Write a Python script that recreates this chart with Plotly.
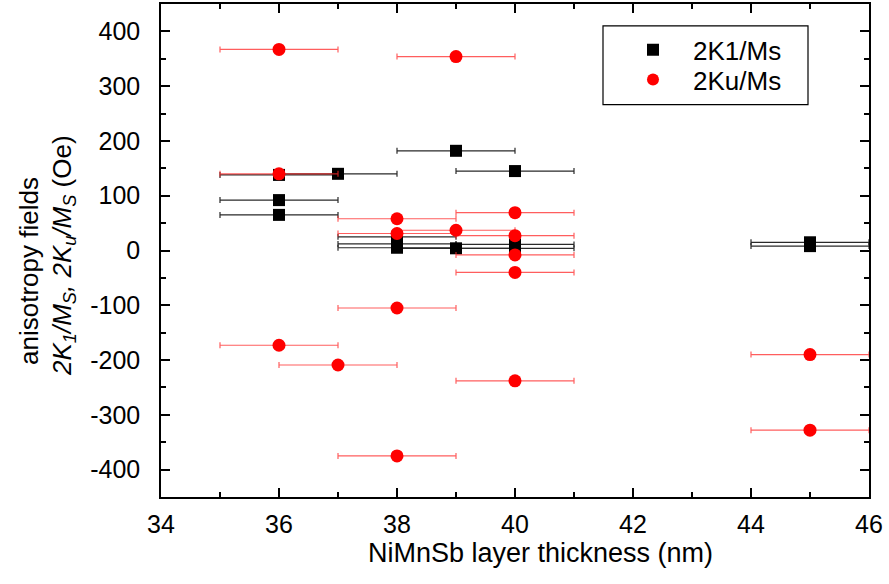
import plotly.graph_objects as go

# 2K1/Ms data
k1_x = [36, 36, 36, 37, 38, 38, 38, 39, 39, 40, 40, 40, 45, 45]
k1_y = [138, 92, 65, 140, 25, 12, 5, 182, 4, 145, 11, 4, 15, 8]
k1_err = [1] * len(k1_x)

# 2Ku/Ms data
ku_x = [36, 36, 36, 37, 38, 38, 38, 38, 39, 39, 40, 40, 40, 40, 40, 45, 45]
ku_y = [367, 140, -173, -209, 58, 31, -105, -375, 354, 37, 69, 27, -8, -40, -238, -190, -328]
ku_err = [1] * len(ku_x)

x_ticks = [34, 36, 38, 40, 42, 44, 46]
y_ticks = [-400, -300, -200, -100, 0, 100, 200, 300, 400]

FONT = "Arial, Liberation Sans, sans-serif"

fig = go.Figure()
fig.add_trace(go.Scatter(
    x=k1_x, y=k1_y, mode="markers", name="2K1/Ms", legend="legend",
    marker=dict(symbol="square", size=12, color="black"),
    error_x=dict(type="data", array=k1_err, visible=True, color="#2a2a2a", thickness=1.2, width=3),
))
fig.add_trace(go.Scatter(
    x=ku_x, y=ku_y, mode="markers", name="2Ku/Ms", legend="legend2",
    marker=dict(symbol="circle", size=13, color="#ff0000"),
    error_x=dict(type="data", array=ku_err, visible=True, color="rgba(255,40,40,0.75)", thickness=1.2, width=3),
))

axis_common = dict(
    showline=True, linecolor="black", linewidth=1.5, mirror="ticks",
    ticks="inside", ticklen=9, tickwidth=1.5, tickcolor="black",
    showgrid=False, zeroline=False,
    tickfont=dict(family=FONT, size=25, color="black"),
)

fig.update_xaxes(
    range=[34, 46], tickvals=x_ticks, ticktext=[str(v) for v in x_ticks],
    minor=dict(ticks="inside", ticklen=5, tickwidth=1.5, tickcolor="black", dtick=1, showgrid=False),
    ticklabelstandoff=4,
    **axis_common,
)
fig.update_yaxes(
    range=[-450, 450], tickvals=y_ticks, ticktext=[str(v) for v in y_ticks],
    minor=dict(ticks="inside", ticklen=5, tickwidth=1.5, tickcolor="black", dtick=50, showgrid=False),
    ticklabelstandoff=14,
    **axis_common,
)

W, H = 889, 584
L, R, T, B = 161, 20, 2, 87
pw, ph = W - L - R, H - T - B


def px_x(px):
    return (px - L) / pw


def px_y(py):
    return (H - B - py) / ph


legend_common = dict(
    xanchor="left", yanchor="middle",
    borderwidth=0, bgcolor="rgba(0,0,0,0)",
    font=dict(family=FONT, size=26, color="black"),
    itemsizing="constant", itemwidth=70,
)

fig.update_layout(
    width=W, height=H,
    margin=dict(l=L, r=R, t=T, b=B),
    plot_bgcolor="white", paper_bgcolor="white",
    showlegend=True,
    legend=dict(x=px_x(613), y=px_y(48), **legend_common),
    legend2=dict(x=px_x(613), y=px_y(78), **legend_common),
    shapes=[dict(
        type="rect", xref="paper", yref="paper",
        x0=px_x(603), x1=px_x(808), y0=px_y(103), y1=px_y(24),
        line=dict(color="black", width=1.2), fillcolor="rgba(0,0,0,0)", layer="above",
    )],
    annotations=[
        dict(
            text="NiMnSb layer thickness (nm)", xref="paper", yref="paper",
            x=px_x(540), y=px_y(553), xanchor="center", yanchor="middle",
            showarrow=False, font=dict(family=FONT, size=27, color="black"),
        ),
        dict(
            text="anisotropy fields", xref="paper", yref="paper",
            x=px_x(29), y=px_y(270), xanchor="center", yanchor="middle", textangle=-90,
            showarrow=False, font=dict(family=FONT, size=26, color="black"),
        ),
        dict(
            text="<i>2K<sub>1</sub>/M<sub>S</sub>, 2K<sub>u</sub>/M<sub>S</sub></i> (Oe)",
            xref="paper", yref="paper",
            x=px_x(64), y=px_y(255), xanchor="center", yanchor="middle", textangle=-90,
            showarrow=False, font=dict(family=FONT, size=26, color="black"),
        ),
    ],
)

fig.write_html("out.html")
